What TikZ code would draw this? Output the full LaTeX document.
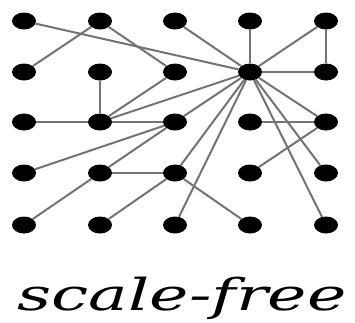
\documentclass[tikz,border=0pt]{standalone}
\usepackage{fontspec}
\setmainfont{DejaVu Serif}
\usetikzlibrary{shapes.geometric,backgrounds}
\tikzset{
  dot/.style={ellipse, fill=black, inner sep=0pt, minimum width=24pt, minimum height=17pt},
  link/.style={draw=black!55, line width=2pt},
}
\begin{document}
\begin{tikzpicture}[x=1pt,y=-1pt]
\useasboundingbox (0,0) rectangle (355,322);
% 5x5 grid of vertices, n<col><row>
\foreach \c/\x in {1/24,2/100,3/175,4/250,5/326}
  \foreach \r/\y in {1/21,2/72,3/122,4/173,5/225}
    \node[dot] (n\c\r) at (\x,\y) {};
\begin{scope}[on background layer]
% edges of the hub n42
\foreach \t in {n11,n31,n41,n51,n52,n23,n33,n34,n35,n53,n54,n55}
  \draw[link] (n42) -- (\t);
% remaining edges
\draw[link] (n21) -- (n12);
\draw[link] (n21) -- (n32);
\draw[link] (n51) -- (n52);
\draw[link] (n22) -- (n23);
\draw[link] (n32) -- (n23);
\draw[link] (n13) -- (n23);
\draw[link] (n23) -- (n33);
\draw[link] (n43) -- (n53);
\draw[link] (n53) -- (n44);
\draw[link] (n33) -- (n14);
\draw[link] (n33) -- (n24);
\draw[link] (n24) -- (n34);
\draw[link] (n24) -- (n15);
\draw[link] (n34) -- (n25);
\draw[link] (n34) -- (n45);
\end{scope}
\node[anchor=base, inner sep=0pt] (caption) at (182,310)
  {\resizebox{329pt}{\height}{\fontsize{44}{44}\selectfont\itshape scale-free}};
\end{tikzpicture}
\end{document}
